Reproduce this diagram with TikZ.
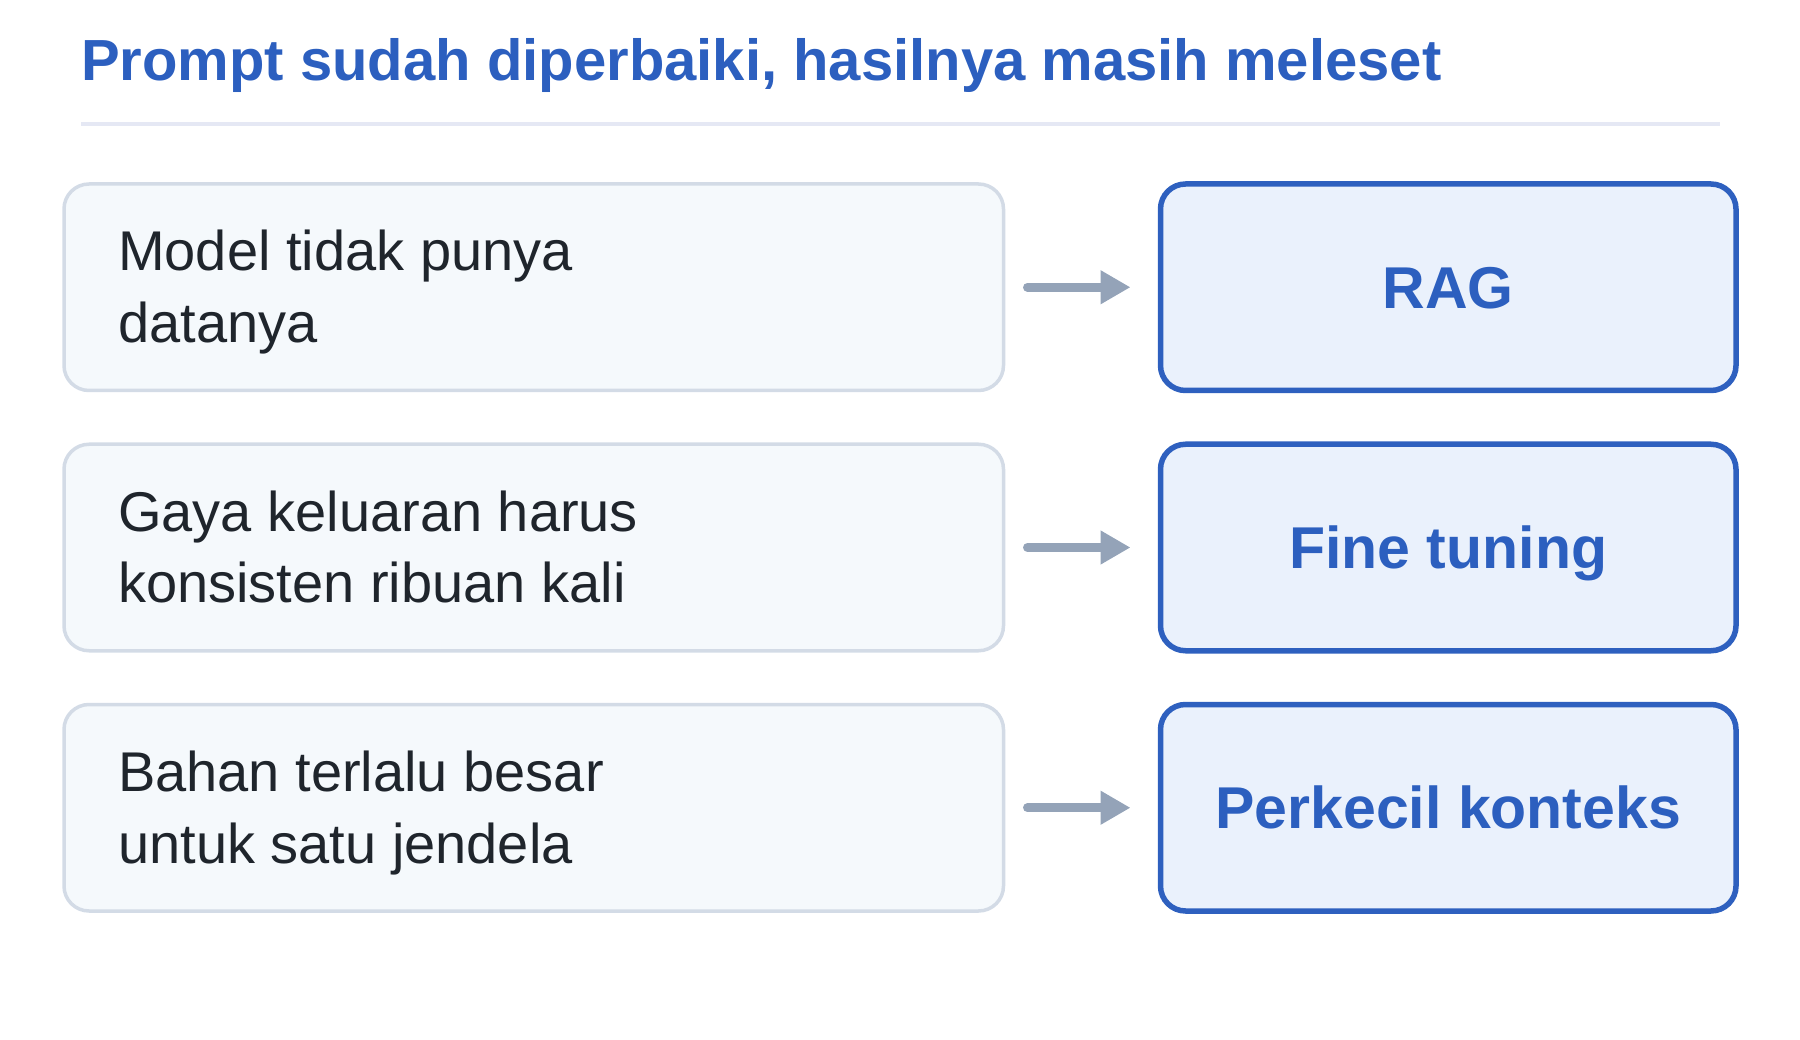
\documentclass[tikz,border=0pt]{standalone}
\usepackage{fontspec}
\setmainfont{Liberation Sans}
\usetikzlibrary{arrows.meta,calc}
\definecolor{titleblue}{HTML}{2C5FBF}
\definecolor{rulec}{HTML}{E5E8F4}
\definecolor{lborder}{HTML}{D3DBE6}
\definecolor{lfill}{HTML}{F5F9FC}
\definecolor{rborder}{HTML}{2E60BF}
\definecolor{rfill}{HTML}{EAF1FC}
\definecolor{txt}{HTML}{1F252C}
\definecolor{arrc}{HTML}{94A3B8}
\tikzset{
  lbox/.style={draw=lborder, line width=3.5pt, fill=lfill, rounded corners=25pt,
    minimum width=939.5pt, minimum height=206.5pt, inner sep=0pt, outer sep=0pt},
  rbox/.style={draw=rborder, line width=5.5pt, fill=rfill, rounded corners=25pt,
    minimum width=575.5pt, minimum height=206.5pt, inner sep=0pt, outer sep=0pt},
  ltext/.style={text=txt, inner sep=0pt, anchor=base west,
    font=\fontsize{56}{71.5}\selectfont},
  rtext/.style={text=titleblue, inner sep=0pt, anchor=base,
    font=\fontsize{59}{70}\selectfont\bfseries},
  arr/.style={draw=arrc, line width=9pt, line cap=round,
    -{Triangle[length=30pt,width=32pt]}, shorten <=24pt, shorten >=30pt},
}
\begin{document}
\begin{tikzpicture}[x=1pt,y=-1pt]
\useasboundingbox (0,0) rectangle (1800,1040);
\node[anchor=base west, inner sep=0pt, text=titleblue,
  font=\fontsize{58}{68}\selectfont\bfseries] (title) at (81,81)
  {Prompt sudah diperbaiki, hasilnya masih meleset};
\draw[rulec, line width=4.5pt] (81,124) coordinate (rs) -- (1720,124) coordinate (re);

\foreach \i/\y/\a/\b/\r in {1/287.25/Model tidak punya/datanya/RAG,
                            2/547.5/Gaya keluaran harus/konsisten ribuan kali/Fine tuning,
                            3/807.75/Bahan terlalu besar/untuk satu jendela/Perkecil konteks}{
  \node[lbox] (l\i) at (533.75,\y) {};
  \node[rbox] (r\i) at (1448.25,\y) {};
  \node[ltext] (lt\i) at ($(l\i.north west)+(54,87)$)
    {\begin{tabular}[t]{@{}l@{}}\a\\\b\end{tabular}};
  \node[rtext] (rt\i) at ($(r\i.center)+(0,21)$) {\r};
  \draw[arr] (l\i.east) -- (r\i.west);
}
\end{tikzpicture}
\end{document}
